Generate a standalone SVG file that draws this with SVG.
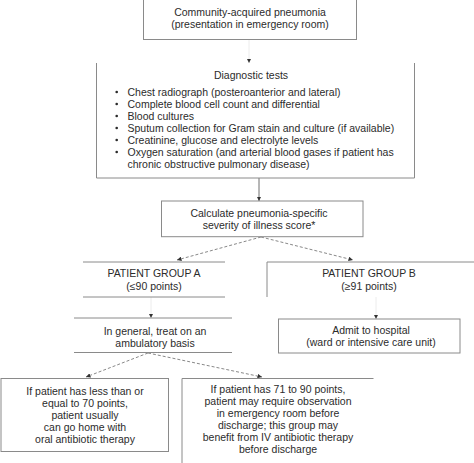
<svg xmlns="http://www.w3.org/2000/svg" width="474" height="463" viewBox="0 0 474 463">
<style>
text{font-family:"Liberation Sans",Arial,sans-serif;font-size:10.5px;fill:#2b2b2b}
.c{text-anchor:middle}
.box{fill:none;stroke:#8a8a8a;stroke-width:1}
.solid{fill:none;stroke:#6e6e6e;stroke-width:1;marker-end:url(#ah)}
.faint{fill:none;stroke:#ececec;stroke-width:1;marker-end:url(#ah)}
.dash{fill:none;stroke:#7a7a7a;stroke-width:0.9;stroke-dasharray:3 2;marker-end:url(#ah)}
</style>
<defs>
<marker id="ah" viewBox="0 0 10 10" refX="10" refY="5" markerWidth="4.5" markerHeight="4.5" markerUnits="userSpaceOnUse" orient="auto">
<path d="M0,0 L10,5 L0,10 z" fill="#333"/>
</marker>
</defs>
<rect width="474" height="463" fill="#fff"/>
<g id="connectors">
<path class="faint" d="M249,40 V63"/>
<path class="solid" d="M259,178 V201"/>
<path class="dash" d="M261,237 L177,260"/>
<path class="dash" d="M261,237 L353,260"/>
<path class="faint" d="M151,297 V318"/>
<path class="faint" d="M376,297 V319"/>
<path class="dash" d="M148,353 L86,377"/>
<path class="dash" d="M148,353 L262,377"/>
</g>
<g id="n1">
<rect class="box" x="143.5" y="-2" width="213" height="41.5"/>
<text class="c" x="250" y="15.5">Community-acquired pneumonia</text>
<text class="c" x="250" y="28">(presentation in emergency room)</text>
</g>
<g id="n2">
<path class="box" d="M96.5,63 V178 H414.5 V63"/>
<text class="c" x="251" y="78.5">Diagnostic tests</text>
<g fill="#2b2b2b">
<circle cx="116.7" cy="92" r="1.3"/><circle cx="116.7" cy="104" r="1.3"/><circle cx="116.7" cy="116" r="1.3"/>
<circle cx="116.7" cy="128" r="1.3"/><circle cx="116.7" cy="140" r="1.3"/><circle cx="116.7" cy="152" r="1.3"/>
</g>
<text x="127.5" y="95.5">Chest radiograph (posteroanterior and lateral)</text>
<text x="127.5" y="107.5">Complete blood cell count and differential</text>
<text x="127.5" y="119.5">Blood cultures</text>
<text x="127.5" y="131.5">Sputum collection for Gram stain and culture (if available)</text>
<text x="127.5" y="143.5">Creatinine, glucose and electrolyte levels</text>
<text x="127.5" y="155.5">Oxygen saturation (and arterial blood gases if patient has</text>
<text x="127.5" y="167.5">chronic obstructive pulmonary disease)</text>
</g>
<g id="n3">
<rect class="box" x="161.5" y="201" width="201.5" height="35.7"/>
<text class="c" x="259" y="216.5">Calculate pneumonia-specific</text>
<text class="c" x="259" y="228.5">severity of illness score*</text>
</g>
<g id="groupA">
<path class="box" d="M83,262 H225 M83,297 H225"/>
<text class="c" x="154" y="277">PATIENT GROUP A</text>
<text class="c" x="154" y="289.5">(≤90 points)</text>
</g>
<g id="groupB">
<path class="box" d="M267,297 V262 H476"/>
<text class="c" x="369" y="277">PATIENT GROUP B</text>
<text class="c" x="369" y="289.5">(≥91 points)</text>
</g>
<g id="ambulatory">
<path class="box" d="M74,318 H232 M74,352.5 H232"/>
<text class="c" x="155" y="334.5">In general, treat on an</text>
<text class="c" x="155" y="346.5">ambulatory basis</text>
</g>
<g id="admit">
<rect class="box" x="278.5" y="319" width="181.5" height="34"/>
<text class="c" x="371" y="333.5">Admit to hospital</text>
<text class="c" x="371" y="345.5">(ward or intensive care unit)</text>
</g>
<g id="home">
<rect class="box" x="1" y="378.5" width="167.5" height="73"/>
<text class="c" x="85" y="394.5">If patient has less than or</text>
<text class="c" x="85" y="406.5">equal to 70 points,</text>
<text class="c" x="85" y="418.5">patient usually</text>
<text class="c" x="85" y="430.5">can go home with</text>
<text class="c" x="85" y="442.5">oral antibiotic therapy</text>
</g>
<g id="observe">
<path class="box" d="M182,465 V378.5 H373.5"/>
<text class="c" x="278" y="393">If patient has 71 to 90 points,</text>
<text class="c" x="278" y="405">patient may require observation</text>
<text class="c" x="278" y="417">in emergency room before</text>
<text class="c" x="278" y="429">discharge; this group may</text>
<text class="c" x="278" y="441">benefit from IV antibiotic therapy</text>
<text class="c" x="278" y="453">before discharge</text>
</g>
</svg>
